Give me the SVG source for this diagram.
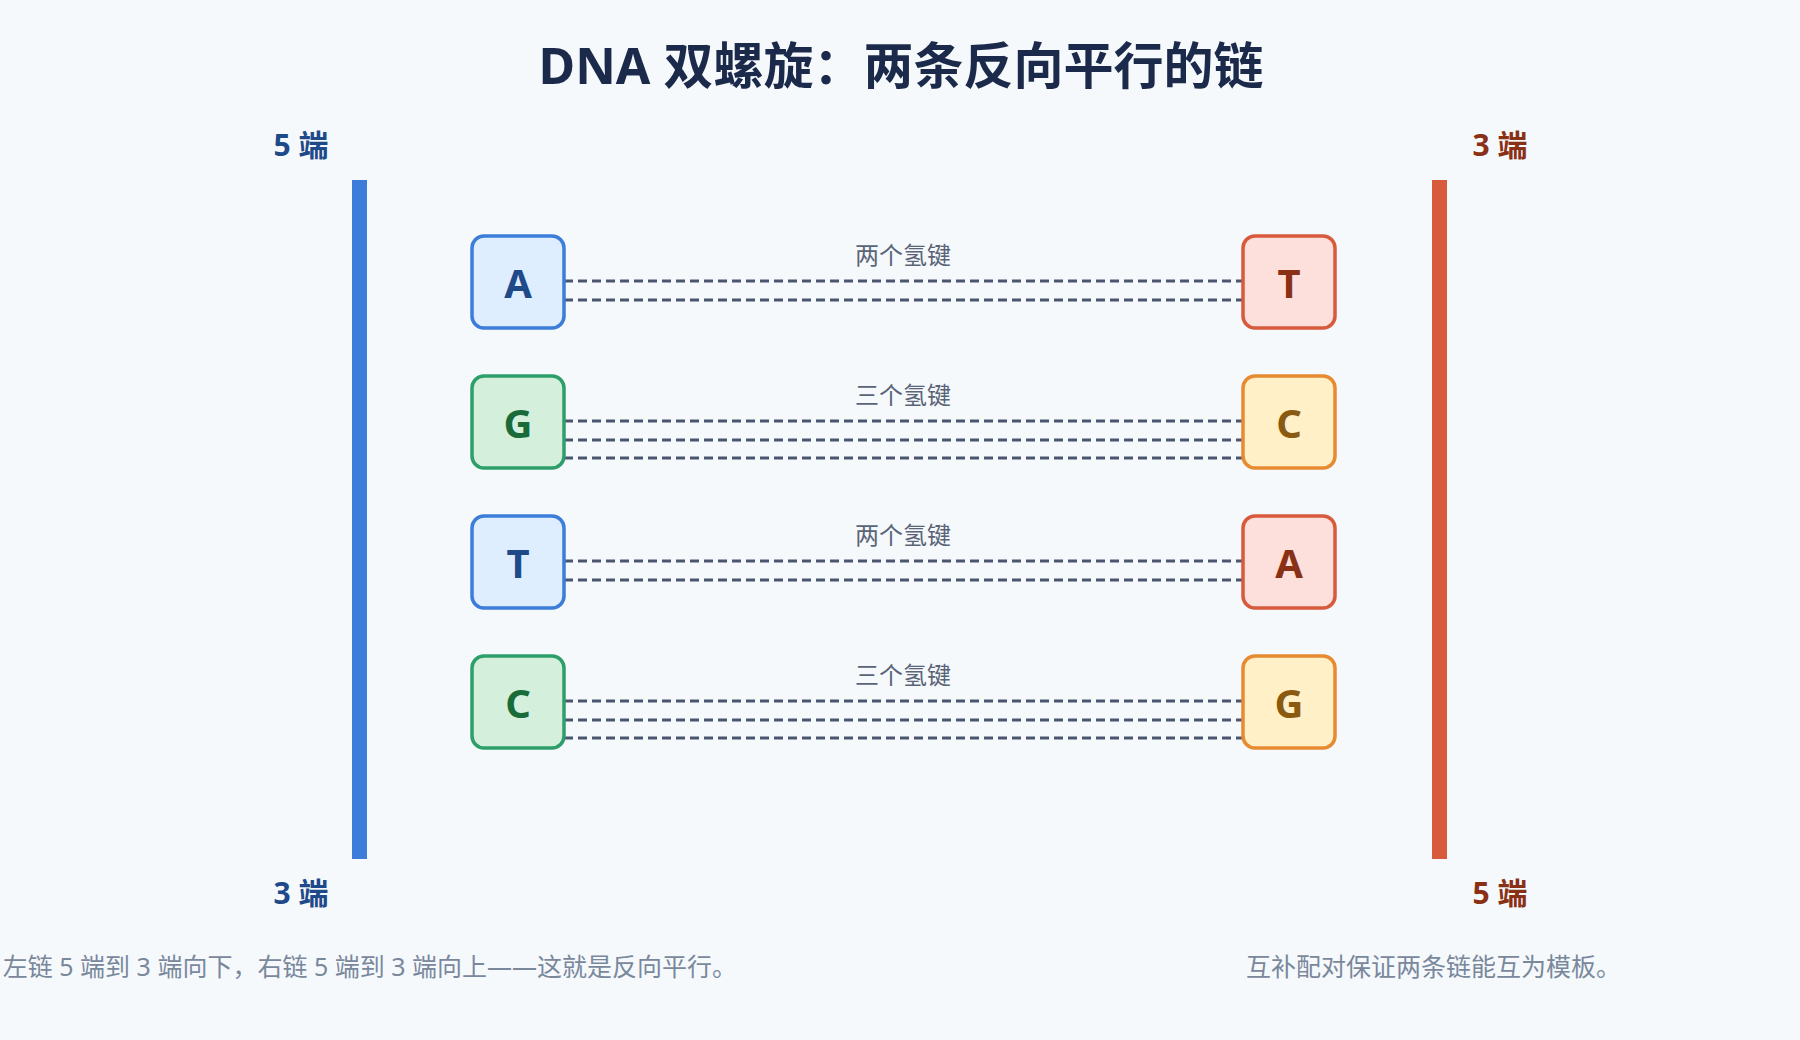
<svg xmlns="http://www.w3.org/2000/svg" width="1800" height="1040" viewBox="0 0 1800 1040">
<style>
text{font-family:"Noto Sans","Noto Sans CJK SC",sans-serif}
.title{font-size:50px;font-weight:bold;fill:#1b2a4a;text-anchor:middle}
.endL{font-size:30px;font-weight:bold;fill:#1e4a8a;text-anchor:middle}
.endR{font-size:30px;font-weight:bold;fill:#8a3015;text-anchor:middle}
.base{font-size:40px;font-weight:bold;text-anchor:middle;dominant-baseline:central}
.bond{stroke:#4a5670;stroke-width:3;stroke-dasharray:9 5;fill:none}
.blab{font-size:24px;fill:#5a6478;text-anchor:middle}
.note{font-size:25px;fill:#7a889c}
.blue rect{fill:#dfeeff;stroke:#3b7dd8;stroke-width:3.5}.blue text{fill:#1e4a8a}
.green rect{fill:#d4f0dc;stroke:#2e9e6a;stroke-width:3.5}.green text{fill:#1a6b3a}
.red rect{fill:#fde0db;stroke:#d85a3c;stroke-width:3.5}.red text{fill:#8a3015}
.orange rect{fill:#fff0c8;stroke:#e88a30;stroke-width:3.5}.orange text{fill:#8a5a10}
</style>
<rect width="1800" height="1040" fill="#f5f9fc"/>
<text class="title" x="901" y="84">DNA 双螺旋：两条反向平行的链</text>
<g id="strandL"><rect x="352" y="180" width="15" height="679" fill="#3b7dd8"/>
<text class="endL" x="301" y="156">5 端</text><text class="endL" x="301" y="904">3 端</text></g>
<g id="strandR"><rect x="1432" y="180" width="15" height="679" fill="#d85a3c"/>
<text class="endR" x="1500" y="156">3 端</text><text class="endR" x="1500" y="904">5 端</text></g>
<g id="connectors">
<path class="bond" d="M564 281H1243M564 300H1243"/>
<path class="bond" d="M564 421H1243M564 440H1243M564 458H1243"/>
<path class="bond" d="M564 561H1243M564 580H1243"/>
<path class="bond" d="M564 701H1243M564 720H1243M564 738H1243"/>
<text class="blab" x="903" y="264">两个氢键</text>
<text class="blab" x="903" y="404">三个氢键</text>
<text class="blab" x="903" y="544">两个氢键</text>
<text class="blab" x="903" y="684">三个氢键</text>
</g>
<g id="L1" class="blue"><rect x="472" y="236" width="92" height="92" rx="12"/><text class="base" x="518" y="282">A</text></g>
<g id="L2" class="green"><rect x="472" y="376" width="92" height="92" rx="12"/><text class="base" x="518" y="422">G</text></g>
<g id="L3" class="blue"><rect x="472" y="516" width="92" height="92" rx="12"/><text class="base" x="518" y="562">T</text></g>
<g id="L4" class="green"><rect x="472" y="656" width="92" height="92" rx="12"/><text class="base" x="518" y="702">C</text></g>
<g id="R1" class="red"><rect x="1243" y="236" width="92" height="92" rx="12"/><text class="base" x="1289" y="282">T</text></g>
<g id="R2" class="orange"><rect x="1243" y="376" width="92" height="92" rx="12"/><text class="base" x="1289" y="422">C</text></g>
<g id="R3" class="red"><rect x="1243" y="516" width="92" height="92" rx="12"/><text class="base" x="1289" y="562">A</text></g>
<g id="R4" class="orange"><rect x="1243" y="656" width="92" height="92" rx="12"/><text class="base" x="1289" y="702">G</text></g>
<text class="note" x="737" y="976" text-anchor="end">左链 5 端到 3 端向下，右链 5 端到 3 端向上——这就是反向平行。</text>
<text class="note" x="1246" y="976">互补配对保证两条链能互为模板。</text>
</svg>
